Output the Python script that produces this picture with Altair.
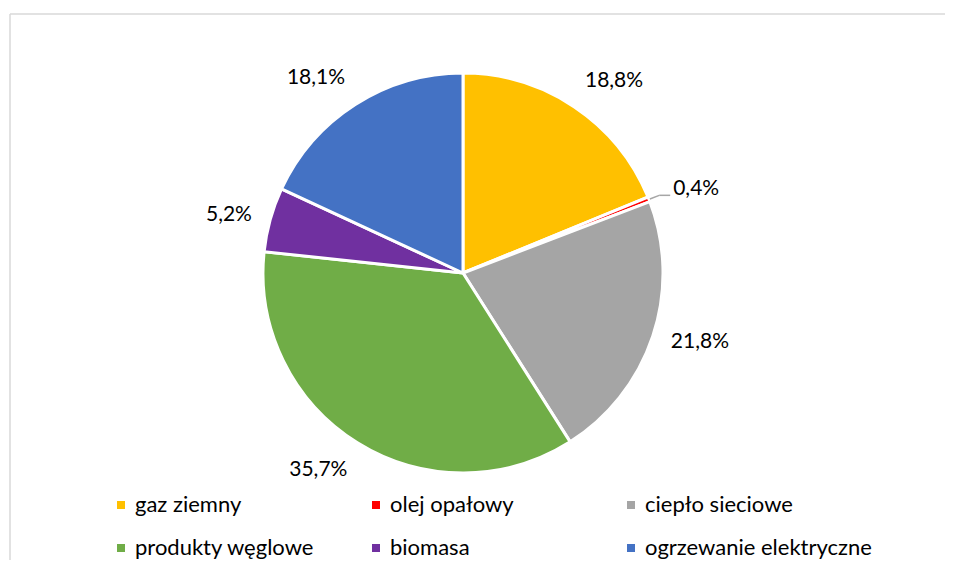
import math
import altair as alt
import pandas as pd

categories = ["gaz ziemny", "olej opałowy", "ciepło sieciowe",
              "produkty węglowe", "biomasa", "ogrzewanie elektryczne"]
shares = [18.8, 0.4, 21.8, 35.7, 5.2, 18.1]
colors = ["#FFC000", "#FF0000", "#A5A5A5", "#70AD47", "#7030A0", "#4472C4"]
labels = [f"{v:.1f}".replace(".", ",") + "%" for v in shares]

df = pd.DataFrame({
    "kategoria": categories,
    "udzial": shares,
    "order": list(range(len(categories))),
    "label": labels,
})

CX, CY, R = 455, 265, 200
LR = 219
FONT = "Lato"
FS = 21

theta_scale = alt.Scale(domain=[0, 100], range=[0, 2 * math.pi])

arc = alt.Chart(df).mark_arc(radius=R, stroke="white", strokeWidth=3).encode(
    theta=alt.Theta("udzial:Q", stack=True, scale=theta_scale),
    color=alt.Color(
        "kategoria:N",
        scale=alt.Scale(domain=categories, range=colors),
        sort=categories,
        legend=alt.Legend(
            title=None, orient="none", legendX=102, legendY=486,
            direction="horizontal",
            columns=3, gridAlign="all", columnPadding=3, rowPadding=21,
            symbolType="square", symbolSize=64, symbolStrokeWidth=0,
            labelFont=FONT, labelFontSize=22, labelColor="#000000",
            labelOffset=3, padding=0, labelLimit=400,
        ),
    ),
    order=alt.Order("order:Q"),
    x=alt.value(CX),
    y=alt.value(CY),
)

base = alt.Chart(df).transform_window(
    cum="sum(udzial)", sort=[alt.SortField("order")], frame=[None, 0]
).transform_calculate(
    mid="datum.cum - datum.udzial / 2"
).transform_calculate(
    ang="datum.mid / 100 * 360"
)

groups = [
    ("datum.ang < 60", "left", "bottom"),
    ("datum.ang >= 60 && datum.ang < 120", "left", "middle"),
    ("datum.ang >= 120 && datum.ang < 180", "left", "top"),
    ("datum.ang >= 180 && datum.ang < 240", "right", "top"),
    ("datum.ang >= 240 && datum.ang < 300", "right", "middle"),
    ("datum.ang >= 300", "right", "bottom"),
]
texts = []
for cond, al, bl in groups:
    texts.append(
        base.transform_filter(f"datum.udzial >= 1 && ({cond})")
        .mark_text(radius=LR, align=al, baseline=bl, font=FONT, fontSize=FS, color="#000000")
        .encode(
            theta=alt.Theta("mid:Q", scale=theta_scale, stack=None),
            text="label:N",
            x=alt.value(CX),
            y=alt.value(CY),
        )
    )

small = base.transform_filter("datum.udzial < 1").transform_calculate(
    a="datum.mid / 100 * 2 * PI"
).transform_calculate(
    x1=f"{CX} + {R + 1} * sin(datum.a)",
    y1=f"{CY} - {R + 1} * cos(datum.a)",
    x2=f"{CX} + {R + 11} * sin(datum.a)",
    y2=f"{CY} - {R + 11} * cos(datum.a)",
).transform_calculate(
    x3="datum.x2 + 11",
    lx="datum.x2 + 14",
    ly="datum.y2 - 6",
)

lead1 = small.mark_rule(color="#A6A6A6", strokeWidth=1.5).encode(
    x=alt.X("x1:Q", scale=None), y=alt.Y("y1:Q", scale=None),
    x2="x2:Q", y2="y2:Q",
)
lead2 = small.mark_rule(color="#A6A6A6", strokeWidth=1.5).encode(
    x=alt.X("x2:Q", scale=None), y=alt.Y("y2:Q", scale=None),
    x2="x3:Q", y2="y2:Q",
)
small_label = small.mark_text(align="left", baseline="middle", font=FONT,
                              fontSize=FS, color="#000000").encode(
    x=alt.X("lx:Q", scale=None), y=alt.Y("ly:Q", scale=None), text="label:N"
)

frame_df = pd.DataFrame({"f": [0]})
frame_top = alt.Chart(frame_df).mark_rule(color="#D9D9D9", strokeWidth=1.5).encode(
    x=alt.value(2), x2=alt.value(3000), y=alt.value(6)
)
frame_left = alt.Chart(frame_df).mark_rule(color="#D9D9D9", strokeWidth=1.5).encode(
    x=alt.value(2), y=alt.value(6), y2=alt.value(3000)
)

chart = alt.layer(
    frame_top, frame_left, arc, *texts, lead1, lead2, small_label
).properties(
    width=937, height=552, padding=0,
    autosize=alt.AutoSizeParams(type="none"),
    background="white",
).configure_view(stroke=None)

chart.save("out.html", embed_options={"renderer": "svg", "actions": False})
